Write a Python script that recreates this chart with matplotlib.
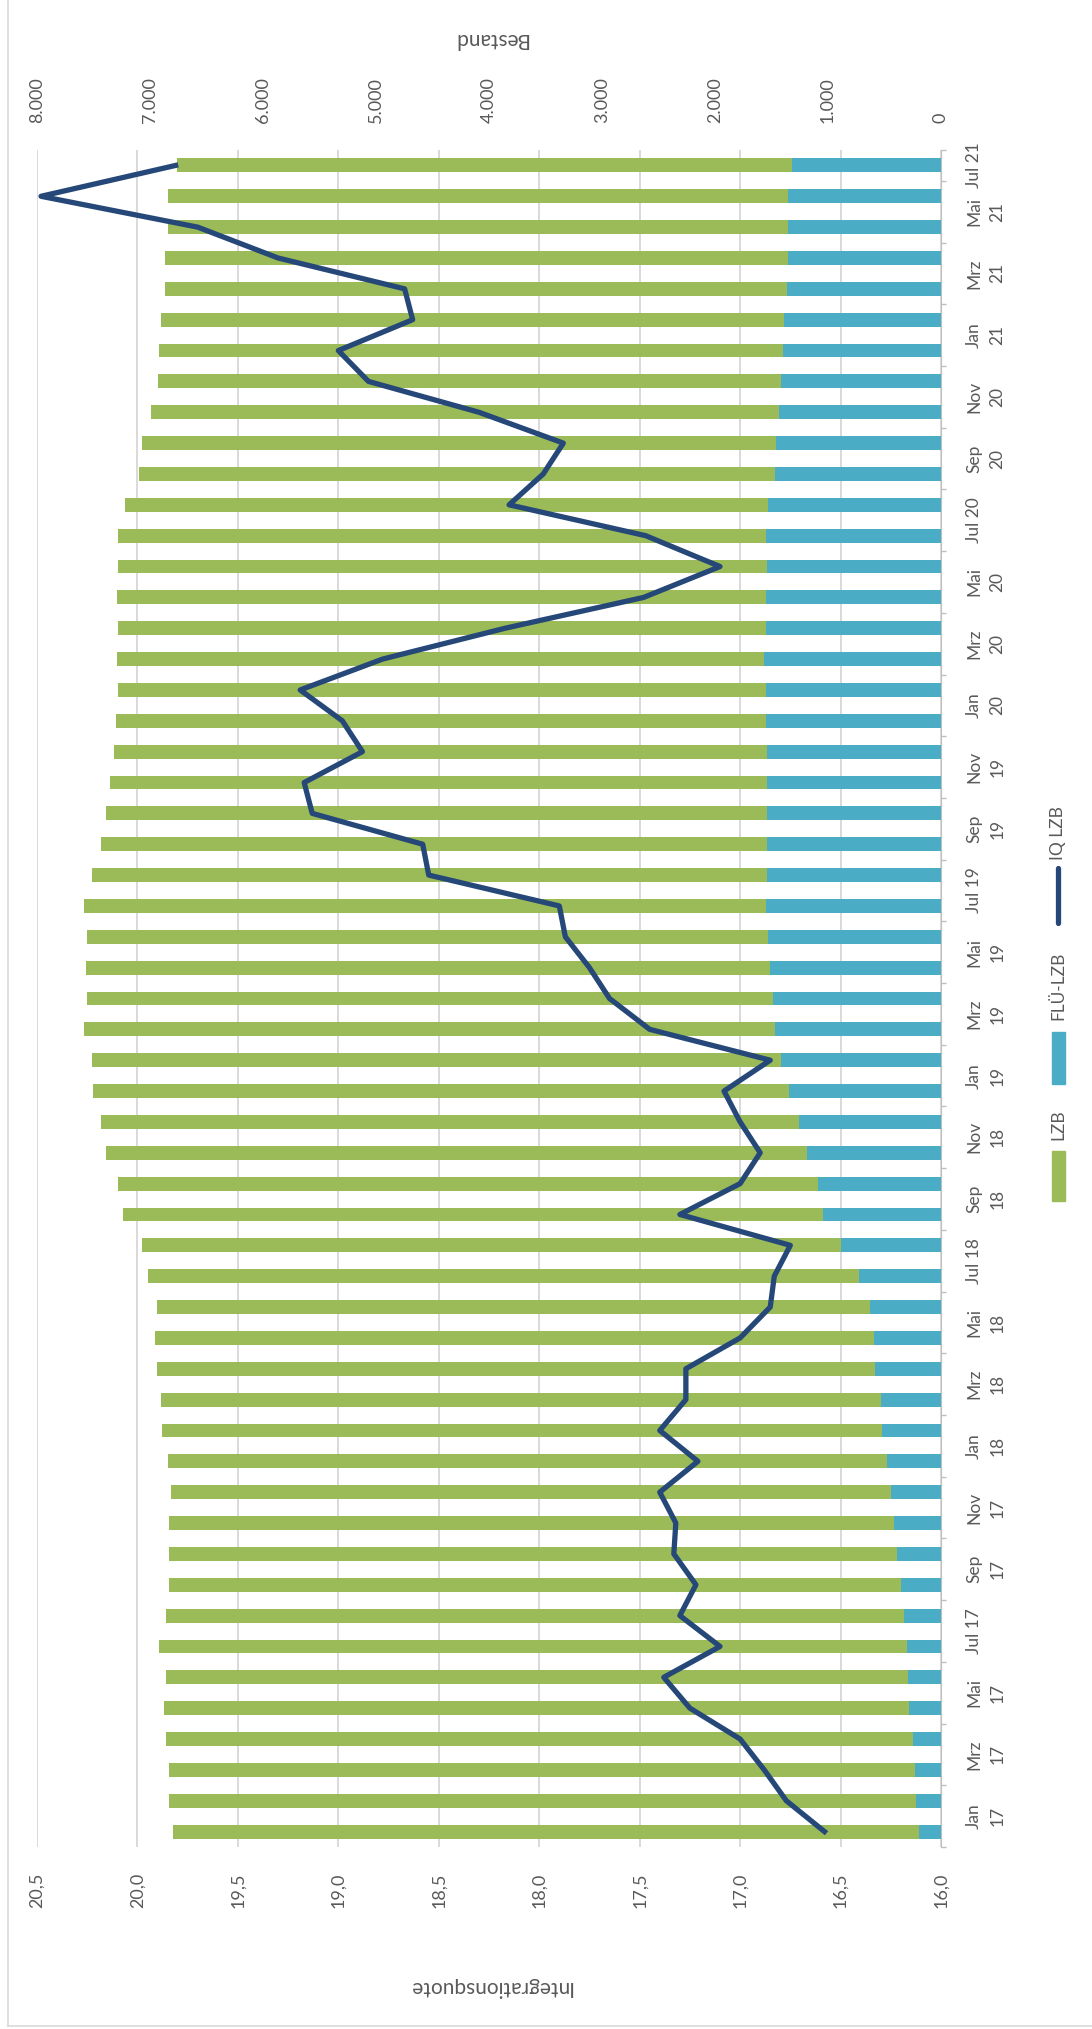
import numpy as np
import matplotlib
matplotlib.use("Agg")
import matplotlib.pyplot as plt
from matplotlib.patches import Rectangle
from matplotlib.lines import Line2D

plt.rcParams['font.family'] = ['Lato', 'DejaVu Sans']

# Daten
monate = ["Jan 17", "Feb 17", "Mrz 17", "Apr 17", "Mai 17", "Jun 17",
          "Jul 17", "Aug 17", "Sep 17", "Okt 17", "Nov 17", "Dez 17",
          "Jan 18", "Feb 18", "Mrz 18", "Apr 18", "Mai 18", "Jun 18",
          "Jul 18", "Aug 18", "Sep 18", "Okt 18", "Nov 18", "Dez 18",
          "Jan 19", "Feb 19", "Mrz 19", "Apr 19", "Mai 19", "Jun 19",
          "Jul 19", "Aug 19", "Sep 19", "Okt 19", "Nov 19", "Dez 19",
          "Jan 20", "Feb 20", "Mrz 20", "Apr 20", "Mai 20", "Jun 20",
          "Jul 20", "Aug 20", "Sep 20", "Okt 20", "Nov 20", "Dez 20",
          "Jan 21", "Feb 21", "Mrz 21", "Apr 21", "Mai 21", "Jun 21",
          "Jul 21"]

lzb = [6604, 6612, 6603, 6614, 6601, 6570, 6617, 6531, 6477, 6450, 6415, 6374,
       6369, 6375, 6372, 6358, 6369, 6313, 6293, 6194, 6193, 6198, 6195, 6177,
       6159, 6103, 6118, 6069, 6058, 6033, 6038, 5977, 5897, 5847, 5817, 5782,
       5758, 5738, 5733, 5738, 5748, 5747, 5738, 5693, 5628, 5619, 5563, 5518,
       5520, 5520, 5505, 5520, 5495, 5495, 5440]

flue_lzb = [196, 223, 232, 246, 279, 290, 303, 329, 358, 385, 420, 441,
            476, 520, 533, 582, 591, 627, 727, 881, 1042, 1087, 1190, 1258,
            1341, 1412, 1467, 1491, 1512, 1527, 1547, 1538, 1538, 1538, 1538, 1538,
            1547, 1547, 1562, 1547, 1547, 1538, 1547, 1527, 1467, 1456, 1432, 1412,
            1400, 1385, 1365, 1350, 1350, 1350, 1320]

iq_lzb = [16.58, 16.77, 16.88, 17.00, 17.25, 17.38, 17.10, 17.30, 17.22, 17.33, 17.32, 17.40,
          17.21, 17.40, 17.27, 17.27, 17.00, 16.85, 16.83, 16.75, 17.30, 17.00, 16.90, 17.00,
          17.08, 16.85, 17.45, 17.65, 17.75, 17.87, 17.90, 18.55, 18.58, 19.13, 19.17, 18.88,
          18.98, 19.19, 18.78, 18.17, 17.48, 17.10, 17.47, 18.15, 17.98, 17.88, 18.30, 18.85,
          19.00, 18.63, 18.67, 19.30, 19.70, 20.48, 19.81]

bestand_ticks = [0, 1000, 2000, 3000, 4000, 5000, 6000, 7000, 8000]
quote_ticks = [16.0, 16.5, 17.0, 17.5, 18.0, 18.5, 19.0, 19.5, 20.0, 20.5]

# Farben
c_lzb = '#9BBB59'
c_flue = '#4BACC6'
c_iq = '#264878'
c_text = '#595959'
c_grid = '#d9d9d9'

W, H = 1092, 2029
fig = plt.figure(figsize=(W / 100, H / 100), dpi=100)

# Achse fuer Integrationsquote (Gitter + Monatsachse rechts)
ax_q = fig.add_axes([37 / W, 182 / H, 904 / W, 1697 / H])
y = np.arange(len(monate))
ax_q.set_ylim(-0.5, len(monate) - 0.5)
ax_q.set_xlim(quote_ticks[-1], quote_ticks[0])
ax_q.set_xticks(quote_ticks, [f"{q:.1f}".replace('.', ',') for q in quote_ticks])
ax_q.tick_params(axis='x', bottom=True, length=0, pad=18.5, labelrotation=90,
                 labelcolor=c_text, labelsize=13)
ax_q.grid(axis='x', color=c_grid, lw=1.4)
ax_q.set_axisbelow(True)
ax_q.set_xlabel('Integrationsquote', rotation=180, color=c_text, fontsize=15)
ax_q.xaxis.set_label_coords(0.502, -0.0766)

# Monatsbeschriftung (jeder zweite Monat, mittig im Intervall)
lab_pos = []
lab_txt = []
for i in range(0, len(monate), 2):
    name, jahr = monate[i].split()
    lab_pos.append(i + 0.5 if i + 1 < len(monate) else i)
    lab_txt.append(f"{name} {jahr}" if name == "Jul" else f"{name}\n{jahr}")
ax_q.yaxis.tick_right()
ax_q.set_yticks(lab_pos, lab_txt, rotation=90, va='center', ha='left',
                multialignment='center', linespacing=1.55)
ax_q.set_yticks(list(np.arange(-0.5, len(monate), 2)) + [len(monate) - 0.5], minor=True)
ax_q.tick_params(axis='y', which='major', length=0, pad=18, labelcolor=c_text, labelsize=12.5)
ax_q.tick_params(axis='y', which='minor', right=True, length=3.6, width=1, color='#bfbfbf')
for s in ['top', 'bottom', 'left']:
    ax_q.spines[s].set_visible(False)
ax_q.spines['right'].set_color('#bfbfbf')

# Balken (Bestand)
ax_b = ax_q.twiny()
ax_b.barh(y, flue_lzb, height=0.45, color=c_flue, label='FLÜ-LZB')
ax_b.barh(y, lzb, left=flue_lzb, height=0.45, color=c_lzb, label='LZB')
ax_b.set_xlim(bestand_ticks[-1], bestand_ticks[0])
ax_b.set_xticks(bestand_ticks, [f"{v:,}".replace(',', '.') for v in bestand_ticks])
ax_b.tick_params(axis='x', top=True, length=0, pad=19.5, labelrotation=90,
                 labelcolor=c_text, labelsize=13)
ax_b.set_xlabel('Bestand', rotation=180, color=c_text, fontsize=15)
ax_b.xaxis.set_label_coords(0.502, 1.062)
for s in ax_b.spines.values():
    s.set_visible(False)

# Linie (IQ LZB)
ax_l = ax_q.twiny()
ax_l.plot(iq_lzb, y, color=c_iq, lw=3.8, clip_on=False, label='IQ LZB')
ax_l.set_xlim(quote_ticks[-1], quote_ticks[0])
ax_l.xaxis.set_visible(False)
for s in ax_l.spines.values():
    s.set_visible(False)

# Legende (gedreht, von Hand)
lx = 1058
fig.add_artist(Rectangle(((lx - 6) / W, 1 - 1201 / H), 13 / W, 50 / H,
                         transform=fig.transFigure, color=c_lzb))
fig.text(lx / W, 1 - 1125 / H, 'LZB', rotation=90, ha='center', va='center',
         color=c_text, fontsize=12.5)
fig.add_artist(Rectangle(((lx - 6) / W, 1 - 1084 / H), 13 / W, 52 / H,
                         transform=fig.transFigure, color=c_flue))
fig.text(lx / W, 1 - 986 / H, 'FLÜ-LZB', rotation=90, ha='center', va='center',
         color=c_text, fontsize=12.5)
fig.add_artist(Line2D([lx / W, lx / W], [1 - 923 / H, 1 - 868 / H],
                      transform=fig.transFigure, color=c_iq, lw=3.8,
                      solid_capstyle='round'))
fig.text(lx / W, 1 - 833 / H, 'IQ LZB', rotation=90, ha='center', va='center',
         color=c_text, fontsize=12.5)

# Rahmen
fig.add_artist(Line2D([8 / W, 8 / W], [3 / H, 1], transform=fig.transFigure,
                      color=c_grid, lw=1.2))
fig.add_artist(Line2D([8 / W, 1], [3 / H, 3 / H], transform=fig.transFigure,
                      color=c_grid, lw=1.2))

fig.savefig('out.png', dpi=100)
